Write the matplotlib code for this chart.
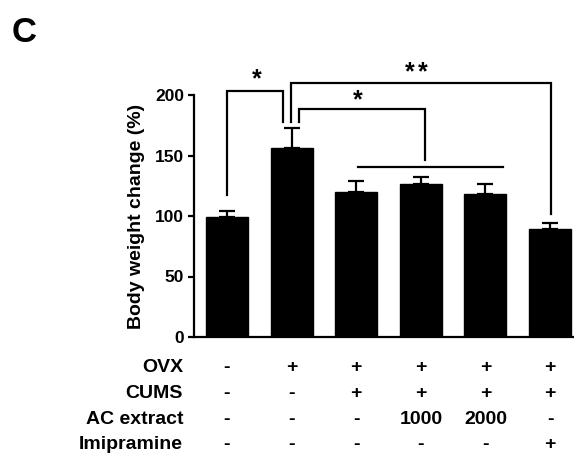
#!/usr/bin/env python3

import matplotlib
matplotlib.use('Agg')
from matplotlib import pyplot as plt
from matplotlib import transforms


# group values
groups = ['sham', 'OVX', 'OVX+CUMS', 'AC 1000', 'AC 2000', 'Imipramine']
means = [99, 156.5, 119.6, 126.7, 118.2, 89]
sems = [5.4, 16.5, 9.1, 5.3, 8.0, 5.5]

# treatment table below the axis
row_labels = ['OVX', 'CUMS', 'AC extract', 'Imipramine']
row_values = [
    ['-', '+', '+', '+', '+', '+'],
    ['-', '-', '+', '+', '+', '+'],
    ['-', '-', '-', '1000', '2000', '-'],
    ['-', '-', '-', '-', '-', '+'],
]

# significance brackets: (x0, y0, x1, y1, ytop)
brackets = [
    (0.0, 117.4, 0.87, 178.0, 203.3),
    (0.986, 177.4, 5.015, 101.7, 210.2),
    (1.115, 177.4, 3.065, 146.3, 188.2),
]
# single asterisks, the '**' is two of them side by side
stars = [(0.46, 213.0), (2.83, 219.0), (3.03, 219.0), (2.03, 196.0)]
group_line = (2.02, 4.27, 140.2)

plt.rcParams['font.family'] = ['Liberation Sans', 'DejaVu Sans']
plt.rcParams['font.weight'] = 'bold'

fig = plt.figure(figsize=(5.74, 4.54), dpi=100)
ax = fig.add_axes([194 / 574, 117 / 454, 380 / 574, 242 / 454])

x = range(len(groups))
ax.bar(x, means, width=0.65, color='black', edgecolor='black', zorder=2)
ax.errorbar(x, means, yerr=[[0] * len(sems), sems], fmt='none',
            ecolor='black', elinewidth=1.6, capsize=5.5, capthick=1.6,
            zorder=1)

ax.set_xlim(-0.51, 5.37)
ax.set_ylim(0, 200)
ax.set_yticks([0, 50, 100, 150, 200])
ax.set_xticks([])
ax.spines['top'].set_visible(False)
ax.spines['right'].set_visible(False)
for side in ('left', 'bottom'):
    ax.spines[side].set_linewidth(1.6)
ax.tick_params(axis='y', length=4, width=1.6, pad=3, labelsize=12.5)
ax.set_ylabel('Body weight change (%)', fontsize=14, fontweight='bold')
ax.yaxis.set_label_coords(-0.128, 0.5)

lw = 1.6
for x0, y0, x1, y1, ytop in brackets:
    ax.plot([x0, x0, x1, x1], [y0, ytop, ytop, y1], color='black', lw=lw,
            clip_on=False, solid_joinstyle='miter')
ax.plot([group_line[0], group_line[1]], [group_line[2], group_line[2]],
        color='black', lw=lw, clip_on=False)
for sx, sy in stars:
    ax.text(sx, sy, '*', ha='center', va='center', fontsize=18,
            fontweight='bold')

# table rows
trans = transforms.blended_transform_factory(ax.transData, fig.transFigure)
baselines = [371.7, 397.7, 423.7, 449.0]
for label, vals, yb in zip(row_labels, row_values, baselines):
    yf = 1 - yb / 454
    fig.text(183 / 574, yf, label, ha='right', va='baseline', fontsize=14,
             fontweight='bold')
    for i, v in enumerate(vals):
        ax.text(i, yf, v, transform=trans, ha='center', va='baseline',
                fontsize=14, fontweight='bold')

fig.text(12 / 574, 1 - 42 / 454, 'C', ha='left', va='baseline', fontsize=25,
         fontweight='bold')

fig.savefig('out.png', dpi=100)
